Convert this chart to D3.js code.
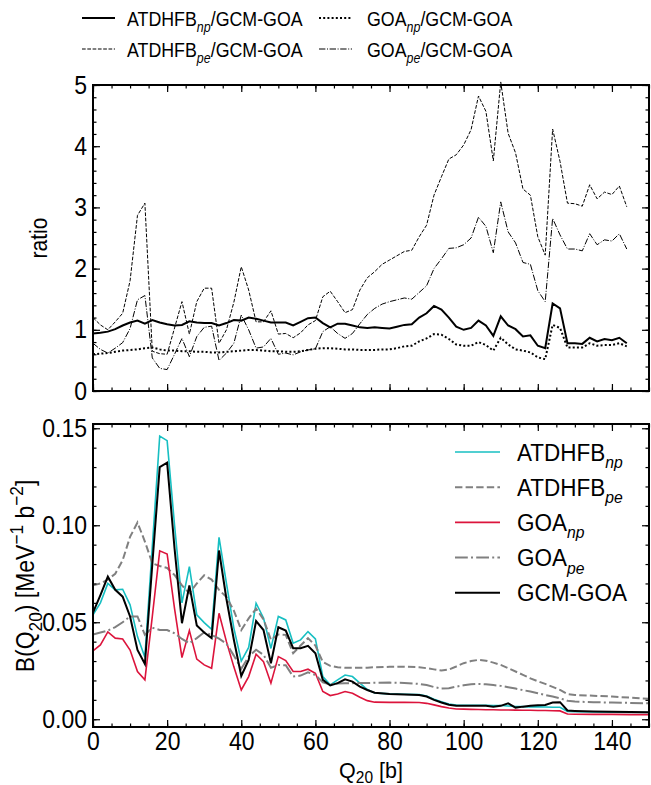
<!DOCTYPE html>
<html>
<head>
<meta charset="utf-8">
<script src="https://cdn.jsdelivr.net/npm/d3@7"></script>
<style>
  body { margin: 0; background: #fff; }
  svg text { font-family: "Liberation Sans", Arial, Helvetica, sans-serif; fill: #000; }
</style>
</head>
<body>
<svg id="chart"></svg>
<script>
// ---- data ----
const qTop = [0, 2, 4, 6, 8, 10, 12, 14, 16, 18, 20, 22, 24, 26, 28, 30, 32, 34, 36, 38,
  40, 42, 44, 46, 48, 50, 52, 54, 56, 58, 60, 62, 64, 66, 68, 70, 72, 74, 76, 78,
  80, 82, 84, 86, 88, 90, 92, 94, 96, 98, 100, 102, 104, 106, 108, 110, 112, 114, 116, 118,
  120, 122, 124, 126, 128, 130, 132, 134, 136, 138, 140, 142, 144];

// ATDHFB_np / GCM-GOA
const ratioAtdNp = [0.94, 0.95, 0.97, 1.01, 1.07, 1.12, 1.15, 1.10, 1.16, 1.12, 1.09, 1.07, 1.08, 1.14, 1.12, 1.11, 1.11, 1.07, 1.11, 1.16,
  1.15, 1.20, 1.18, 1.15, 1.12, 1.12, 1.12, 1.07, 1.13, 1.19, 1.20, 1.11, 1.04, 1.10, 1.10, 1.07, 1.04, 1.03, 1.04, 1.03,
  1.02, 1.05, 1.08, 1.09, 1.20, 1.27, 1.39, 1.33, 1.20, 1.05, 1.00, 1.03, 1.15, 1.07, 0.90, 1.22, 1.07, 1.01, 0.89, 0.91,
  0.74, 0.70, 1.43, 1.35, 0.78, 0.78, 0.77, 0.87, 0.81, 0.85, 0.83, 0.87, 0.78];
// GOA_np / GCM-GOA
const ratioGoaNp = [0.60, 0.61, 0.62, 0.64, 0.66, 0.67, 0.68, 0.70, 0.71, 0.68, 0.66, 0.66, 0.65, 0.65, 0.64, 0.64, 0.63, 0.63, 0.64, 0.65,
  0.66, 0.67, 0.67, 0.66, 0.65, 0.65, 0.64, 0.64, 0.65, 0.67, 0.69, 0.70, 0.70, 0.69, 0.68, 0.68, 0.67, 0.67, 0.67, 0.68,
  0.68, 0.70, 0.73, 0.74, 0.81, 0.86, 0.93, 0.92, 0.85, 0.76, 0.74, 0.74, 0.80, 0.75, 0.66, 0.87, 0.76, 0.68, 0.66, 0.63,
  0.55, 0.52, 1.08, 1.03, 0.71, 0.71, 0.71, 0.78, 0.74, 0.75, 0.75, 0.78, 0.73];
// ATDHFB_pe / GCM-GOA
const ratioAtdPe = [1.20, 1.08, 1.00, 1.13, 1.27, 1.80, 2.87, 3.07, 0.65, 0.61, 0.60, 1.03, 1.46, 0.93, 1.46, 1.68, 1.68, 0.78, 1.00, 1.45,
  2.03, 1.65, 1.13, 1.13, 1.31, 0.93, 0.94, 0.87, 0.95, 1.08, 1.15, 1.54, 1.63, 1.46, 1.28, 1.33, 1.65, 1.85, 1.95, 2.07,
  2.14, 2.21, 2.28, 2.30, 2.52, 2.71, 3.20, 3.50, 3.79, 3.86, 4.02, 4.27, 4.82, 4.57, 3.76, 5.05, 4.21, 3.89, 3.30, 3.20,
  2.52, 2.22, 4.28, 3.75, 3.07, 3.06, 3.02, 3.37, 3.14, 3.25, 3.21, 3.35, 3.01];
// GOA_pe / GCM-GOA
const ratioGoaPe = [0.78, 0.68, 0.62, 0.70, 0.79, 1.02, 1.49, 1.56, 0.54, 0.37, 0.35, 0.60, 0.86, 0.56, 0.89, 1.04, 1.06, 0.50, 0.62, 0.78,
  1.24, 1.00, 0.70, 0.72, 0.86, 0.60, 0.62, 0.59, 0.64, 0.67, 0.69, 0.97, 1.05, 0.94, 0.86, 0.94, 1.10, 1.25, 1.35, 1.42,
  1.46, 1.49, 1.52, 1.50, 1.61, 1.72, 2.00, 2.16, 2.33, 2.34, 2.39, 2.50, 2.84, 2.69, 2.26, 3.09, 2.60, 2.42, 2.10, 2.07,
  1.64, 1.46, 2.82, 2.55, 2.32, 2.32, 2.29, 2.57, 2.39, 2.47, 2.45, 2.57, 2.32];

const qBot = [0, 2, 4, 6, 8, 10, 12, 14, 16, 18, 20, 22, 24, 26, 28, 30, 32, 34, 36, 38,
  40, 42, 44, 46, 48, 50, 52, 54, 56, 58, 60, 62, 64, 66, 68, 70, 72, 74, 76,
  80, 84, 88, 90, 92, 94, 96, 98, 100, 102, 104, 106, 108, 110, 112, 114, 116, 118,
  120, 122, 124, 126, 128, 130, 135, 140, 145, 150];

const bAtdNp = [0.0538, 0.060, 0.070, 0.0667, 0.067, 0.059, 0.0426, 0.032, 0.089, 0.146, 0.1436, 0.100, 0.060, 0.0787, 0.0538, 0.0498, 0.0464, 0.0938, 0.070, 0.047,
  0.030, 0.037, 0.0598, 0.0522, 0.0365, 0.053, 0.0512, 0.0392, 0.0409, 0.0452, 0.0414, 0.022, 0.0177, 0.0203, 0.0228, 0.022, 0.0186, 0.0153, 0.0135,
  0.0131, 0.0129, 0.0127, 0.0120, 0.0103, 0.0090, 0.0078, 0.0073, 0.0072, 0.0072, 0.0072, 0.0072, 0.0071, 0.0071, 0.0068, 0.0066, 0.0065, 0.0064,
  0.0064, 0.0063, 0.0062, 0.0062, 0.0040, 0.0039, 0.0037, 0.0036, 0.0035, 0.0035];
const bAtdPe = [0.069, 0.070, 0.072, 0.075, 0.082, 0.094, 0.1014, 0.0916, 0.0804, 0.079, 0.078, 0.0744, 0.069, 0.065, 0.070, 0.0742, 0.072, 0.0667, 0.063, 0.056,
  0.046, 0.052, 0.057, 0.0515, 0.041, 0.0437, 0.0435, 0.034, 0.038, 0.0418, 0.038, 0.0295, 0.0275, 0.0268, 0.0265, 0.0265, 0.0265, 0.0266, 0.0268,
  0.0270, 0.0271, 0.0268, 0.0263, 0.0257, 0.0251, 0.0256, 0.0272, 0.0289, 0.0300, 0.0306, 0.0302, 0.0292, 0.0280, 0.0263, 0.0246, 0.0229, 0.0211,
  0.0196, 0.0182, 0.0167, 0.0151, 0.0130, 0.0125, 0.0121, 0.0117, 0.0111, 0.0105];
const bGoaNp = [0.0352, 0.0383, 0.045, 0.0418, 0.0414, 0.0357, 0.0246, 0.0203, 0.053, 0.0868, 0.0852, 0.057, 0.0318, 0.0457, 0.031, 0.028, 0.0263, 0.0546, 0.040, 0.027,
  0.0151, 0.022, 0.0335, 0.0297, 0.0186, 0.0323, 0.0302, 0.0246, 0.0246, 0.0258, 0.0237, 0.0143, 0.0122, 0.013, 0.0143, 0.0134, 0.0113, 0.0096, 0.0088,
  0.0087, 0.0087, 0.0086, 0.0082, 0.0074, 0.0065, 0.0058, 0.0053, 0.0052, 0.0051, 0.0050, 0.0049, 0.0049, 0.0048, 0.0048, 0.0047, 0.0046, 0.0046,
  0.0045, 0.0045, 0.0044, 0.0043, 0.0027, 0.0026, 0.0025, 0.0025, 0.0024, 0.0024];
const bGoaPe = [0.0437, 0.0447, 0.0457, 0.0475, 0.050, 0.053, 0.053, 0.0435, 0.0472, 0.046, 0.046, 0.0443, 0.0414, 0.0392, 0.0418, 0.0448, 0.0435, 0.0415, 0.039, 0.0328,
  0.026, 0.0323, 0.0358, 0.0332, 0.0265, 0.028, 0.0278, 0.022, 0.0225, 0.0242, 0.0228, 0.019, 0.018, 0.0184, 0.0186, 0.0186, 0.0187, 0.0187, 0.0188,
  0.0189, 0.0187, 0.0182, 0.0176, 0.0166, 0.0158, 0.0160, 0.0168, 0.0175, 0.0180, 0.0182, 0.0180, 0.0176, 0.0172, 0.0165, 0.0158, 0.0150, 0.0143,
  0.0134, 0.0125, 0.0117, 0.0108, 0.0095, 0.0091, 0.0088, 0.0086, 0.0084, 0.0082];
const bGcm = [0.055, 0.064, 0.0735, 0.0667, 0.0632, 0.053, 0.0357, 0.0285, 0.080, 0.130, 0.1323, 0.088, 0.0495, 0.069, 0.0483, 0.0447, 0.0418, 0.087, 0.062, 0.041,
  0.0223, 0.0306, 0.0506, 0.046, 0.0289, 0.0474, 0.0457, 0.0366, 0.0366, 0.0378, 0.034, 0.0203, 0.0174, 0.0186, 0.0206, 0.0194, 0.0168, 0.0151, 0.0137,
  0.0130, 0.0128, 0.0125, 0.0117, 0.0100, 0.0086, 0.0075, 0.0070, 0.0069, 0.0069, 0.0070, 0.0069, 0.0065, 0.0069, 0.0082, 0.0060, 0.0065, 0.0069,
  0.0072, 0.0074, 0.0086, 0.0088, 0.0045, 0.0043, 0.0040, 0.0038, 0.0037, 0.0036];

const xTicks = [0, 20, 40, 60, 80, 100, 120, 140];
const ratioTicks = [0, 1, 2, 3, 4, 5];
const bTicks = [0, 0.05, 0.10, 0.15];

// legend text pieces: [main, subscript, rest]
const topLegend = [
  { name: ['ATDHFB', 'np', '/GCM-GOA'], dash: null, width: 2 },
  { name: ['GOA', 'np', '/GCM-GOA'], dash: '2,2.2', width: 2 },
  { name: ['ATDHFB', 'pe', '/GCM-GOA'], dash: '3.7,1.6', width: 1 },
  { name: ['GOA', 'pe', '/GCM-GOA'], dash: '6.4,1.6,1,1.6', width: 1 }
];
const botLegend = [
  { name: ['ATDHFB', 'np', ''], color: '#17bfc2', dash: null, width: 1.6 },
  { name: ['ATDHFB', 'pe', ''], color: '#808080', dash: '7.4,3.2', width: 2 },
  { name: ['GOA', 'np', ''], color: '#dc143c', dash: null, width: 1.6 },
  { name: ['GOA', 'pe', ''], color: '#808080', dash: '12.8,3.2,2,3.2', width: 2 },
  { name: ['GCM-GOA', '', ''], color: '#000', dash: null, width: 2 }
];

// ---- layout ----
const W = 651, H = 785;
const left = 93, right = 649;
const topBox = { y0: 85, y1: 391 };
const botBox = { y0: 424, y1: 727 };
const stretch = 1.1;   // glyphs in the figure are a bit taller than wide

const svg = d3.select('#chart').attr('width', W).attr('height', H);

const x = d3.scaleLinear().domain([0, 150]).range([left, right]);
const yTop = d3.scaleLinear().domain([0, 5]).range([topBox.y1, topBox.y0]);
const yBot = d3.scaleLinear().domain([-0.004, 0.1522]).range([botBox.y1, botBox.y0]);

// write text with a lowered/raised small piece
function richText(sel, parts, size, small, subDrop) {
  let shift = 0;
  parts.forEach(p => {
    if (!p.t) return;
    const target = p.sub ? size * (subDrop || 0.3) : (p.sup ? -size * 0.42 : 0);
    sel.append('tspan')
      .attr('dy', target - shift)
      .style('font-size', (p.sub || p.sup) ? (size * (small || 0.7)) + 'px' : size + 'px')
      .style('font-style', p.it ? 'italic' : 'normal')
      .text(p.t);
    shift = target;
  });
}

function drawFrame(y, box, majorY, minorY, fmt, showX) {
  const g = svg.append('g');

  // bottom / top x axes (ticks inside)
  g.append('g').attr('transform', `translate(0,${box.y1})`)
    .call(d3.axisBottom(x).tickValues(xTicks).tickSize(-7).tickPadding(5).tickFormat(showX ? d3.format('d') : ''));
  g.append('g').attr('transform', `translate(0,${box.y1})`)
    .call(d3.axisBottom(x).tickValues(d3.range(0, 151, 5)).tickSize(-3.5).tickFormat(''));
  g.append('g').attr('transform', `translate(0,${box.y0})`)
    .call(d3.axisTop(x).tickValues(xTicks).tickSize(-7).tickFormat(''));
  g.append('g').attr('transform', `translate(0,${box.y0})`)
    .call(d3.axisTop(x).tickValues(d3.range(0, 151, 5)).tickSize(-3.5).tickFormat(''));

  // left / right y axes
  g.append('g').attr('transform', `translate(${left},0)`)
    .call(d3.axisLeft(y).tickValues(majorY).tickSize(-7).tickPadding(6).tickFormat(fmt));
  g.append('g').attr('transform', `translate(${left},0)`)
    .call(d3.axisLeft(y).tickValues(minorY).tickSize(-3.5).tickFormat(''));
  g.append('g').attr('transform', `translate(${right},0)`)
    .call(d3.axisRight(y).tickValues(majorY).tickSize(-7).tickFormat(''));
  g.append('g').attr('transform', `translate(${right},0)`)
    .call(d3.axisRight(y).tickValues(minorY).tickSize(-3.5).tickFormat(''));

  g.selectAll('.domain').remove();
  g.selectAll('.tick line').attr('stroke', '#000').attr('stroke-width', 1.2);
  g.selectAll('.tick text')
    .style('font-size', '23px')
    .attr('fill', '#000')
    .attr('transform', `scale(1,${stretch})`);

  g.append('rect')
    .attr('x', left).attr('y', box.y0)
    .attr('width', right - left).attr('height', box.y1 - box.y0)
    .attr('fill', 'none').attr('stroke', '#000').attr('stroke-width', 2);
  return g;
}

// ---- top panel: ratios ----
const lineTop = d3.line().x(d => x(d[0])).y(d => yTop(d[1]));
const topSeries = [ratioAtdNp, ratioGoaNp, ratioAtdPe, ratioGoaPe];
topSeries.forEach((vals, i) => {
  svg.append('path')
    .datum(qTop.map((q, k) => [q, vals[k]]))
    .attr('d', lineTop)
    .attr('fill', 'none')
    .attr('stroke', '#000')
    .attr('stroke-width', topLegend[i].width)
    .attr('stroke-dasharray', topLegend[i].dash);
});

drawFrame(yTop, topBox, ratioTicks, d3.range(0, 5.01, 0.2).map(v => +v.toFixed(1)), d3.format('d'), false);

svg.append('text')
  .attr('transform', `translate(47,${(topBox.y0 + topBox.y1) / 2}) rotate(-90) scale(1,${stretch})`)
  .attr('text-anchor', 'middle')
  .style('font-size', '21px')
  .text('ratio');

// top legend (two columns, two rows)
const legPos = [
  { lx: 82, tx: 127, y: 18 }, { lx: 319, tx: 367, y: 18 },
  { lx: 82, tx: 127, y: 49 }, { lx: 319, tx: 367, y: 49 }
];
topLegend.forEach((d, i) => {
  const p = legPos[i];
  svg.append('line')
    .attr('x1', p.lx).attr('x2', p.lx + 33).attr('y1', p.y).attr('y2', p.y)
    .attr('stroke', '#000').attr('stroke-width', d.width).attr('stroke-dasharray', d.dash);
  const t = svg.append('text')
    .attr('transform', `translate(${p.tx},${p.y + 7.5}) scale(1,1.15)`);
  richText(t, [{ t: d.name[0] }, { t: d.name[1], sub: true, it: true }, { t: d.name[2] }], 17.8);
});

// ---- bottom panel: B(Q20) ----
const lineBot = d3.line().x(d => x(d[0])).y(d => yBot(d[1]));
const botSeries = [bAtdNp, bAtdPe, bGoaNp, bGoaPe, bGcm];
botSeries.forEach((vals, i) => {
  svg.append('path')
    .datum(qBot.map((q, k) => [q, vals[k]]))
    .attr('d', lineBot)
    .attr('fill', 'none')
    .attr('stroke', botLegend[i].color)
    .attr('stroke-width', botLegend[i].width)
    .attr('stroke-dasharray', botLegend[i].dash);
});

drawFrame(yBot, botBox, bTicks, d3.range(0, 0.1501, 0.01).map(v => +v.toFixed(2)), d3.format('.2f'), true);

const yl = svg.append('text')
  .attr('transform', `translate(34,576) rotate(-90) scale(1,${stretch})`)
  .attr('text-anchor', 'middle')
  .style('font-size', '23px');
richText(yl, [{ t: 'B(Q' }, { t: '20', sub: true }, { t: ') [MeV' }, { t: '\u22121', sup: true }, { t: ' b' }, { t: '\u22122', sup: true }, { t: ']' }], 23, 0.75);

const xl = svg.append('text')
  .attr('transform', `translate(${(left + right) / 2},778) scale(1,1.05)`)
  .attr('text-anchor', 'middle')
  .style('font-size', '21.5px');
richText(xl, [{ t: 'Q' }, { t: '20', sub: true }, { t: ' [b]' }], 21.5, 0.72, 0.2);

// bottom legend
botLegend.forEach((d, i) => {
  const yy = 452 + i * 35.2;
  svg.append('line')
    .attr('x1', 455).attr('x2', 500).attr('y1', yy).attr('y2', yy)
    .attr('stroke', d.color).attr('stroke-width', d.width).attr('stroke-dasharray', d.dash);
  const t = svg.append('text')
    .attr('transform', `translate(517,${yy + 8.5}) scale(1,${stretch})`);
  richText(t, [{ t: d.name[0] }, { t: d.name[1], sub: true, it: true }, { t: d.name[2] }], 22.5);
});
</script>
</body>
</html>
